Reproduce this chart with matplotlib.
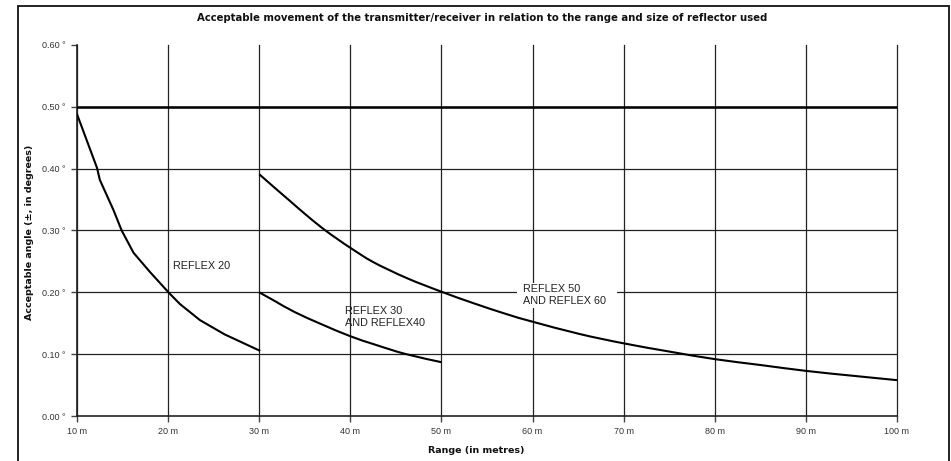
import matplotlib
matplotlib.use("Agg")
import matplotlib.pyplot as plt
import numpy as np
from matplotlib.patches import Rectangle, PathPatch
from matplotlib.path import Path

plt.rcParams['font.family'] = ['Liberation Sans', 'DejaVu Sans']

# limit line
limit_x = [10, 100]
limit_y = [0.50, 0.50]

# REFLEX 20
r20_x = [10, 12.2, 12.5, 14.0, 14.9, 16.2, 18.0, 20.1, 21.3, 23.5, 26.2, 30]
r20_y = [0.488, 0.401, 0.382, 0.333, 0.300, 0.264, 0.233, 0.199, 0.181, 0.155, 0.132, 0.106]

# REFLEX 30 and REFLEX 40
r30_x = [30, 31.7, 33.9, 36.9, 40, 42.7, 46.0, 50]
r30_y = [0.200, 0.186, 0.168, 0.148, 0.129, 0.1155, 0.1005, 0.087]

# REFLEX 50 and REFLEX 60
r50_x = [30, 31.7, 33.2, 35, 37, 38.7, 40, 42.5, 46.2, 50, 53.5, 57.2, 60, 65.2, 70, 75.1, 80, 85, 90, 95.2, 100]
r50_y = [0.391, 0.369, 0.350, 0.327, 0.303, 0.285, 0.272, 0.249, 0.223, 0.201, 0.1825, 0.1645, 0.1525,
         0.1325, 0.1175, 0.104, 0.092, 0.0825, 0.073, 0.065, 0.058]

x_ticks = [10, 20, 30, 40, 50, 60, 70, 80, 90, 100]
y_ticks = [0.0, 0.1, 0.2, 0.3, 0.4, 0.5, 0.6]


def smooth_line(ax, xs, ys, **kw):
    # excel-like smoothed line: catmull-rom through the points as bezier segments
    pts = np.column_stack([xs, ys])
    n = len(pts)
    verts = [pts[0]]
    codes = [Path.MOVETO]
    for i in range(n - 1):
        p0 = pts[max(i - 1, 0)]
        p1 = pts[i]
        p2 = pts[i + 1]
        p3 = pts[min(i + 2, n - 1)]
        verts += [p1 + (p2 - p0) / 6, p2 - (p3 - p1) / 6, p2]
        codes += [Path.CURVE4] * 3
    ax.add_patch(PathPatch(Path(verts, codes), fill=False, **kw))


fig = plt.figure(figsize=(9.51, 4.61), dpi=100)
ax = fig.add_axes([0.081, 0.0976, 0.8622, 0.8048])

ax.plot(limit_x, limit_y, color='black', lw=1.8, zorder=3)
ax.plot(r20_x, r20_y, color='black', lw=1.5, zorder=3)
smooth_line(ax, r30_x, r30_y, edgecolor='black', lw=1.5, zorder=3)
smooth_line(ax, r50_x, r50_y, edgecolor='black', lw=1.5, zorder=3)

ax.set_xlim(10, 100)
ax.set_ylim(0, 0.6)
ax.set_xticks(x_ticks)
ax.set_yticks(y_ticks)
ax.set_xticklabels([f'{v} m' for v in x_ticks])
ax.set_yticklabels([f'{v:.2f} °' for v in y_ticks])
ax.tick_params(labelsize=6.5, labelcolor='#333333', length=4, width=1, color='#444444', pad=4)

ax.grid(True, color='#222222', lw=0.9, zorder=1)
for gl in ax.get_xgridlines():
    gl.set_clip_on(False)
ax.get_ygridlines()[-1].set_visible(False)
ax.get_ygridlines()[0].set_visible(False)

for s in ['top', 'right']:
    ax.spines[s].set_visible(False)
for s in ['left', 'bottom']:
    ax.spines[s].set_linewidth(1.2)
    ax.spines[s].set_color('#222222')

lab = dict(fontsize=7.8, va='center', color='#222222', linespacing=1.25)
ax.text(20.5, 0.243, 'REFLEX 20', **lab)
ax.text(39.4, 0.160, 'REFLEX 30\nAND REFLEX40', **lab)
# white label box hiding the 0.20 gridline behind the REFLEX 50 label
ax.add_patch(Rectangle((58.3, 0.175), 11.0, 0.04, facecolor='white', edgecolor='none', zorder=2))
ax.text(58.9, 0.195, 'REFLEX 50\nAND REFLEX 60', zorder=4, **lab)

bold = dict(ha='center', va='center', fontweight='bold', color='#111111', family='DejaVu Sans')
fig.text(0.507, 0.962, 'Acceptable movement of the transmitter/receiver in relation to the range and size of reflector used',
         fontsize=7.3, **bold)
fig.text(0.501, 0.022, 'Range (in metres)', fontsize=6.8, **bold)
fig.text(0.031, 0.495, 'Acceptable angle (±, in degrees)', rotation=90, fontsize=6.8, **bold)

# outer frame
fig.patches.append(Rectangle((18 / 951, -0.05), (949 - 18) / 951, 1.05 - 6 / 461, transform=fig.transFigure,
                             fill=False, edgecolor='#111111', lw=1.3))

fig.savefig('out.png', dpi=100)
